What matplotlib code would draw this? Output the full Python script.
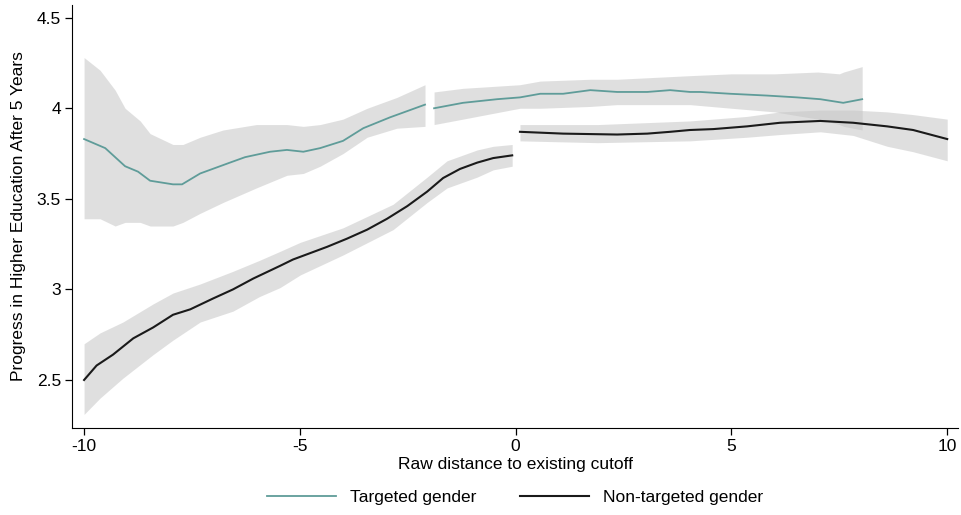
import numpy as np
import matplotlib.pyplot as plt

plt.rcParams['font.family'] = ['Liberation Sans', 'DejaVu Sans']
plt.rcParams['axes.unicode_minus'] = False

# Targeted gender, left of its cutoff
t1_x = [-10, -9.51, -9.05, -8.75, -8.47, -7.94, -7.73, -7.31, -6.62, -6.27, -5.69, -5.30, -4.92, -4.53, -4.0, -3.53, -2.91, -2.10]
t1_y = [3.83, 3.78, 3.68, 3.65, 3.60, 3.58, 3.58, 3.64, 3.70, 3.73, 3.76, 3.77, 3.76, 3.78, 3.82, 3.89, 3.95, 4.02]
t1_bx = [-10, -9.63, -9.28, -9.05, -8.70, -8.47, -7.94, -7.71, -7.31, -6.78, -6.01, -5.30, -4.92, -4.53, -4.0, -3.44, -2.75, -2.10]
t1_hi = [4.28, 4.21, 4.10, 4.00, 3.93, 3.86, 3.80, 3.80, 3.84, 3.88, 3.91, 3.91, 3.90, 3.91, 3.94, 4.00, 4.06, 4.13]
t1_lo = [3.39, 3.39, 3.35, 3.37, 3.37, 3.35, 3.35, 3.37, 3.42, 3.48, 3.56, 3.63, 3.64, 3.68, 3.75, 3.84, 3.89, 3.90]

# Targeted gender, right of its cutoff
t2_x = [-1.89, -1.22, -0.43, 0.10, 0.57, 1.10, 1.73, 2.35, 3.05, 3.58, 4.04, 4.28, 4.97, 5.83, 6.52, 7.06, 7.59, 8.03]
t2_y = [4.00, 4.03, 4.05, 4.06, 4.08, 4.08, 4.10, 4.09, 4.09, 4.10, 4.09, 4.09, 4.08, 4.07, 4.06, 4.05, 4.03, 4.05]
t2_bx = [-1.89, -1.22, 0.10, 0.57, 1.73, 2.35, 4.04, 5.0, 6.0, 7.0, 7.5, 7.6, 8.03]
t2_hi = [4.09, 4.11, 4.13, 4.15, 4.16, 4.16, 4.18, 4.19, 4.19, 4.20, 4.19, 4.20, 4.23]
t2_lo = [3.91, 3.94, 4.00, 4.00, 4.01, 4.02, 4.02, 4.00, 3.98, 3.94, 3.91, 3.90, 3.88]

# Non-targeted gender, left of cutoff
n1_x = [-10, -9.71, -9.33, -8.86, -8.40, -7.94, -7.54, -7.01, -6.55, -6.08, -5.46, -5.16, -4.37, -3.91, -3.44, -2.98, -2.51, -2.05, -1.68, -1.29, -0.89, -0.52, -0.08]
n1_y = [2.50, 2.58, 2.64, 2.73, 2.79, 2.86, 2.89, 2.95, 3.00, 3.06, 3.13, 3.165, 3.235, 3.28, 3.33, 3.39, 3.46, 3.54, 3.615, 3.665, 3.70, 3.725, 3.74]
n1_bx = [-10, -9.63, -9.10, -8.40, -7.94, -7.31, -6.55, -5.94, -5.46, -4.99, -4.0, -2.84, -2.05, -1.59, -0.89, -0.52, -0.08]
n1_hi = [2.70, 2.76, 2.82, 2.92, 2.98, 3.03, 3.10, 3.16, 3.21, 3.26, 3.34, 3.47, 3.62, 3.71, 3.77, 3.79, 3.80]
n1_lo = [2.31, 2.40, 2.51, 2.64, 2.72, 2.82, 2.88, 2.96, 3.01, 3.08, 3.19, 3.33, 3.48, 3.56, 3.62, 3.66, 3.68]

# Non-targeted gender, right of cutoff
n2_x = [0.10, 1.10, 2.35, 3.05, 3.58, 4.04, 4.58, 5.36, 6.13, 7.06, 7.82, 8.61, 9.21, 10.0]
n2_y = [3.87, 3.86, 3.855, 3.86, 3.87, 3.88, 3.885, 3.90, 3.92, 3.93, 3.92, 3.90, 3.88, 3.83]
n2_bx = [0.10, 1.90, 4.04, 5.36, 6.13, 7.06, 7.82, 8.61, 9.21, 10.0]
n2_hi = [3.91, 3.91, 3.93, 3.955, 3.98, 3.99, 3.99, 3.98, 3.965, 3.94]
n2_lo = [3.82, 3.81, 3.82, 3.84, 3.855, 3.87, 3.85, 3.79, 3.76, 3.71]

teal = '#5f9c99'
band = '#c6c6c6'

fig = plt.figure(figsize=(9.61, 5.15), dpi=100)
ax = fig.add_axes([72 / 961, 1 - 428 / 515, 886 / 961, 423 / 515])

# confidence bands
for bx, lo, hi in [(t1_bx, t1_lo, t1_hi), (t2_bx, t2_lo, t2_hi),
                   (n1_bx, n1_lo, n1_hi), (n2_bx, n2_lo, n2_hi)]:
    ax.fill_between(bx, lo, hi, color=band, alpha=0.55, linewidth=0)

ax.plot(t1_x, t1_y, color=teal, lw=1.3, label='Targeted gender')
ax.plot(t2_x, t2_y, color=teal, lw=1.3)
ax.plot(n1_x, n1_y, color='#1a1a1a', lw=1.5, label='Non-targeted gender')
ax.plot(n2_x, n2_y, color='#1a1a1a', lw=1.5)

ax.set_xlim(-10.28, 10.25)
ax.set_ylim(2.235, 4.57)
ax.set_xticks([-10, -5, 0, 5, 10])
ax.set_yticks([2.5, 3, 3.5, 4, 4.5])
ax.set_yticklabels(['2.5', '3', '3.5', '4', '4.5'])
ax.spines['top'].set_visible(False)
ax.spines['right'].set_visible(False)
ax.tick_params(direction='out', length=5, width=0.9, labelsize=12.5, pad=3)

ax.set_xlabel('Raw distance to existing cutoff', fontsize=12.5, labelpad=2)
ax.set_ylabel('Progress in Higher Education After 5 Years', fontsize=12.5, labelpad=8)

ax.legend(loc='upper center', bbox_to_anchor=(0.5, -0.11), ncol=2, frameon=False,
          fontsize=12.5, handlelength=4, columnspacing=2.5)

fig.savefig('out.png', dpi=100)
